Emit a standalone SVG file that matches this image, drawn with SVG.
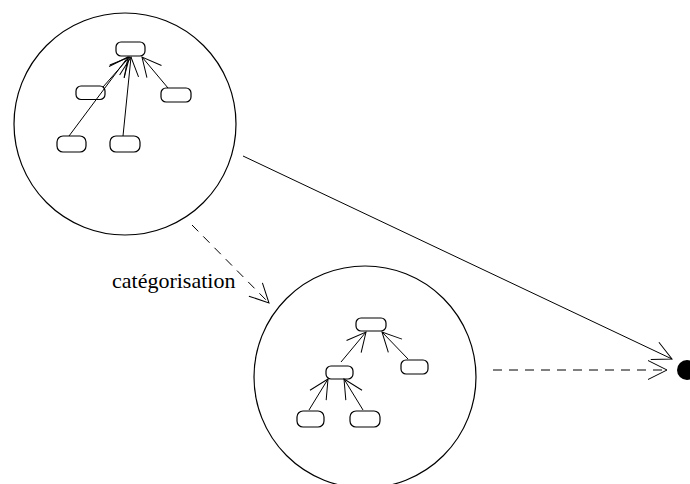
<svg xmlns="http://www.w3.org/2000/svg" width="690" height="484" viewBox="0 0 690 484">
  <style>
    .ring { fill: none; stroke: #000; stroke-width: 1.2; }
    .box { fill: #fff; stroke: #000; stroke-width: 1.2; }
    .edge { fill: none; stroke: #000; stroke-width: 1; marker-end: url(#open); }
    .dash { stroke-dasharray: 9 7; }
    .label { font-family: "Liberation Serif", "Times New Roman", serif; font-size: 22px; fill: #000; }
  </style>
  <defs>
    <marker id="open" markerUnits="userSpaceOnUse" viewBox="-22 -12 24 24" refX="0" refY="0" markerWidth="24" markerHeight="24" orient="auto" overflow="visible">
      <path d="M-19,-9.5 L0,0 L-19,9.5" fill="none" stroke="#000" stroke-width="1" stroke-dasharray="none"/>
    </marker>
  </defs>

  <!-- upper cluster -->
  <g id="cluster-a">
    <circle class="ring" cx="125" cy="124" r="111"/>
  </g>
  <g id="a-root"><rect class="box" x="116" y="42" width="29" height="14" rx="5"/></g>
  <g id="a-left"><rect class="box" x="76" y="86" width="29" height="13.5" rx="5"/></g>
  <g id="a-right"><rect class="box" x="161" y="88" width="30" height="14" rx="5"/></g>
  <g id="a-low1"><rect class="box" x="57" y="136" width="29" height="16" rx="6"/></g>
  <g id="a-low2"><rect class="box" x="110" y="136" width="30" height="16" rx="6"/></g>

  <!-- lower cluster -->
  <g id="cluster-b">
    <circle class="ring" cx="365" cy="377" r="111"/>
  </g>
  <g id="b-root"><rect class="box" x="356" y="318" width="30" height="13" rx="5"/></g>
  <g id="b-mid"><rect class="box" x="326" y="366" width="27" height="13" rx="5"/></g>
  <g id="b-right"><rect class="box" x="401" y="360" width="27" height="14" rx="5"/></g>
  <g id="b-low1"><rect class="box" x="297" y="411" width="27" height="16" rx="6"/></g>
  <g id="b-low2"><rect class="box" x="350" y="411" width="30" height="16" rx="6"/></g>

  <!-- target point -->
  <g id="target">
    <circle cx="687" cy="370" r="10" fill="#000"/>
  </g>

  <g id="connectors">
    <line class="edge" x1="69" y1="136" x2="128" y2="57"/>
    <line class="edge" x1="103" y1="87" x2="129.5" y2="57"/>
    <line class="edge" x1="123" y1="136" x2="131" y2="57"/>
    <line class="edge" x1="168" y1="88" x2="142" y2="57"/>

    <line class="edge" x1="341" y1="362" x2="366" y2="332"/>
    <line class="edge" x1="408" y1="359" x2="382" y2="332"/>
    <line class="edge" x1="309" y1="410" x2="328" y2="379"/>
    <line class="edge" x1="363" y1="410" x2="344" y2="379"/>

    <line class="edge" x1="243" y1="156" x2="672" y2="359"/>
    <line class="edge dash" x1="192" y1="225" x2="269" y2="303"/>
    <line class="edge dash" x1="493" y1="370" x2="667" y2="370"/>
  </g>

  <text class="label" x="112" y="288">catégorisation</text>
</svg>
